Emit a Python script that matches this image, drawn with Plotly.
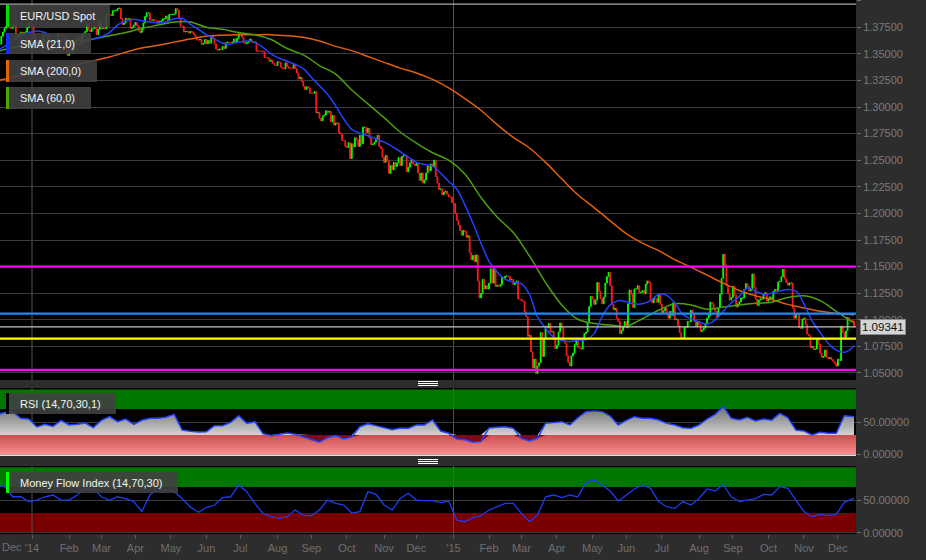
import numpy as np
import pandas as pd
import plotly.graph_objects as go
from plotly.subplots import make_subplots

# ---------------- DATA ----------------
# Daily EUR/USD closes (one row per trading week), Mon 2 Dec 2013 .. Tue 15 Dec 2015
closes = [
    1.3590, 1.3590, 1.3590, 1.3665, 1.3705,
    1.3740, 1.3760, 1.3780, 1.3745, 1.3740,
    1.3765, 1.3770, 1.3680, 1.3665, 1.3675,
    1.3705, 1.3675, 1.3700, 1.3705, 1.3745,
    1.3795, 1.3780, 1.3765, 1.3670, 1.3590,
    1.3630, 1.3615, 1.3575, 1.3590, 1.3670,
    1.3675, 1.3670, 1.3605, 1.3620, 1.3540,
    1.3555, 1.3560, 1.3550, 1.3690, 1.3675,
    1.3675, 1.3665, 1.3655, 1.3560, 1.3485,
    1.3525, 1.3515, 1.3535, 1.3590, 1.3635,
    1.3645, 1.3635, 1.3590, 1.3675, 1.3695,
    1.3710, 1.3780, 1.3725, 1.3710, 1.3740,
    1.3740, 1.3745, 1.3680, 1.3730, 1.3805,
    1.3735, 1.3740, 1.3735, 1.3860, 1.3875,
    1.3870, 1.3860, 1.3905, 1.3905, 1.3910,
    1.3925, 1.3930, 1.3830, 1.3775, 1.3790,
    1.3835, 1.3825, 1.3830, 1.3740, 1.3750,
    1.3770, 1.3795, 1.3765, 1.3715, 1.3700,
    1.3730, 1.3790, 1.3850, 1.3885, 1.3885,
    1.3815, 1.3815, 1.3820, 1.3810, 1.3810,
    1.3790, 1.3805, 1.3810, 1.3830, 1.3830,
    1.3855, 1.3810, 1.3870, 1.3870, 1.3870,
    1.3875, 1.3925, 1.3910, 1.3835, 1.3760,
    1.3760, 1.3705, 1.3710, 1.3710, 1.3695,
    1.3710, 1.3705, 1.3685, 1.3665, 1.3630,
    1.3630, 1.3635, 1.3590, 1.3595, 1.3635,
    1.3595, 1.3625, 1.3600, 1.3665, 1.3645,
    1.3590, 1.3545, 1.3535, 1.3545, 1.3540,
    1.3570, 1.3550, 1.3605, 1.3610, 1.3605,
    1.3605, 1.3610, 1.3640, 1.3610, 1.3645,
    1.3690, 1.3680, 1.3655, 1.3605, 1.3595,
    1.3605, 1.3615, 1.3640, 1.3610, 1.3605,
    1.3610, 1.3525, 1.3525, 1.3525, 1.3525,
    1.3520, 1.3465, 1.3465, 1.3460, 1.3430,
    1.3440, 1.3410, 1.3395, 1.3390, 1.3425,
    1.3420, 1.3375, 1.3365, 1.3360, 1.3415,
    1.3380, 1.3365, 1.3365, 1.3365, 1.3400,
    1.3360, 1.3320, 1.3265, 1.3280, 1.3240,
    1.3195, 1.3165, 1.3190, 1.3180, 1.3130,
    1.3130, 1.3130, 1.3145, 1.2945, 1.2950,
    1.2895, 1.2870, 1.2915, 1.2925, 1.2965,
    1.2950, 1.2960, 1.2860, 1.2920, 1.2830,
    1.2850, 1.2850, 1.2760, 1.2745, 1.2685,
    1.2685, 1.2630, 1.2620, 1.2665, 1.2515,
    1.2655, 1.2625, 1.2710, 1.2690, 1.2630,
    1.2735, 1.2655, 1.2810, 1.2810, 1.2760,
    1.2800, 1.2710, 1.2645, 1.2650, 1.2670,
    1.2700, 1.2735, 1.2630, 1.2610, 1.2525,
    1.2480, 1.2545, 1.2495, 1.2375, 1.2450,
    1.2410, 1.2480, 1.2440, 1.2475, 1.2525,
    1.2450, 1.2535, 1.2545, 1.2545, 1.2390,
    1.2435, 1.2475, 1.2505, 1.2465, 1.2450,
    1.2470, 1.2380, 1.2310, 1.2380, 1.2285,
    1.2315, 1.2380, 1.2445, 1.2400, 1.2465,
    1.2440, 1.2500, 1.2345, 1.2285, 1.2225,
    1.2230, 1.2175, 1.2200, 1.2210, 1.2180,
    1.2155, 1.2155, 1.2100, 1.2095, 1.2000,
    1.1935, 1.1890, 1.1840, 1.1795, 1.1840,
    1.1830, 1.1775, 1.1790, 1.1630, 1.1565,
    1.1605, 1.1545, 1.1610, 1.1365, 1.1205,
    1.1245, 1.1380, 1.1290, 1.1320, 1.1290,
    1.1345, 1.1480, 1.1345, 1.1480, 1.1315,
    1.1325, 1.1315, 1.1330, 1.1400, 1.1390,
    1.1410, 1.1410, 1.1405, 1.1375, 1.1380,
    1.1330, 1.1345, 1.1365, 1.1195, 1.1195,
    1.1180, 1.1175, 1.1075, 1.1030, 1.0845,
    1.0855, 1.0700, 1.0550, 1.0630, 1.0495,
    1.0565, 1.0595, 1.0880, 1.0655, 1.0825,
    1.0940, 1.0925, 1.0965, 1.0885, 1.0890,
    1.0835, 1.0730, 1.0760, 1.0885, 1.0970,
    1.0925, 1.0800, 1.0780, 1.0660, 1.0600,
    1.0565, 1.0660, 1.0685, 1.0765, 1.0805,
    1.0740, 1.0735, 1.0725, 1.0825, 1.0870,
    1.0885, 1.0975, 1.1125, 1.1220, 1.1195,
    1.1145, 1.1185, 1.1350, 1.1265, 1.1200,
    1.1150, 1.1215, 1.1345, 1.1405, 1.1445,
    1.1320, 1.1145, 1.1095, 1.1110, 1.1015,
    1.0985, 1.0870, 1.0900, 1.0935, 1.0985,
    1.0925, 1.1150, 1.1280, 1.1240, 1.1115,
    1.1290, 1.1290, 1.1320, 1.1255, 1.1260,
    1.1275, 1.1245, 1.1335, 1.1365, 1.1350,
    1.1185, 1.1160, 1.1205, 1.1200, 1.1165,
    1.1235, 1.1145, 1.1060, 1.1085, 1.1110,
    1.1055, 1.1015, 1.1080, 1.1040, 1.1160,
    1.1000, 1.1005, 1.0945, 1.0880, 1.0830,
    1.0825, 1.0935, 1.0930, 1.0985, 1.0980,
    1.1090, 1.1060, 1.0985, 1.0935, 1.0985,
    1.0955, 1.0890, 1.0905, 1.0925, 1.0965,
    1.1015, 1.1040, 1.1165, 1.1150, 1.1105,
    1.1080, 1.1025, 1.1115, 1.1240, 1.1390,
    1.1615, 1.1515, 1.1320, 1.1245, 1.1185,
    1.1210, 1.1315, 1.1230, 1.1120, 1.1150,
    1.1170, 1.1205, 1.1205, 1.1285, 1.1340,
    1.1315, 1.1270, 1.1290, 1.1430, 1.1305,
    1.1195, 1.1135, 1.1185, 1.1195, 1.1195,
    1.1245, 1.1255, 1.1175, 1.1195, 1.1215,
    1.1195, 1.1265, 1.1285, 1.1275, 1.1355,
    1.1360, 1.1405, 1.1475, 1.1385, 1.1350,
    1.1325, 1.1345, 1.1345, 1.1110, 1.1015,
    1.1055, 1.1050, 1.0925, 1.0920, 1.1005,
    1.1015, 1.0955, 1.0865, 1.0850, 1.0740,
    1.0750, 1.0720, 1.0725, 1.0815, 1.0770,
    1.0685, 1.0645, 1.0655, 1.0715, 1.0645,
    1.0635, 1.0645, 1.0625, 1.0610, 1.0590,
    1.0565, 1.0630, 1.0615, 1.0940, 1.0880,
    1.0835, 1.0895, 1.1020, 1.0995, 1.0990,
    1.0990, 1.09341,
]

# SMA(21) read every 5th trading day (+ last day)
sma21 = [
    1.353, 1.357, 1.362, 1.367, 1.370, 1.3715, 1.370, 1.366, 1.363, 1.360,
    1.359, 1.361, 1.364, 1.366, 1.370, 1.377, 1.381, 1.3825, 1.381, 1.380,
    1.379, 1.380, 1.383, 1.3835, 1.378, 1.373, 1.368, 1.364, 1.360, 1.359,
    1.361, 1.362, 1.361, 1.356, 1.350, 1.346, 1.343, 1.340, 1.336, 1.328,
    1.320, 1.312, 1.301, 1.289, 1.279, 1.2755, 1.273, 1.270, 1.267, 1.263,
    1.258, 1.253, 1.248, 1.246, 1.2445, 1.238, 1.230, 1.223, 1.208, 1.191,
    1.172, 1.155, 1.145, 1.138, 1.1355, 1.134, 1.124, 1.1027, 1.092, 1.0835,
    1.0805, 1.0795, 1.081, 1.0812, 1.087, 1.103, 1.114, 1.118, 1.117, 1.115,
    1.115, 1.118, 1.124, 1.123, 1.116, 1.105, 1.101, 1.098, 1.096, 1.100,
    1.108, 1.116, 1.122, 1.130, 1.127, 1.124, 1.125, 1.127, 1.1285, 1.127,
    1.115, 1.099, 1.088, 1.078, 1.0715, 1.0695, 1.074, 1.076,
]
# SMA(60) and SMA(200) read every 10th trading day (+ last day)
sma60 = [
    1.352, 1.356, 1.359, 1.361, 1.362, 1.362, 1.364, 1.367, 1.370, 1.374,
    1.377, 1.380, 1.380, 1.375, 1.373, 1.370, 1.368, 1.3635, 1.355, 1.349,
    1.339, 1.331, 1.316, 1.303, 1.290, 1.2765, 1.266, 1.257, 1.250, 1.237,
    1.215, 1.1966, 1.182, 1.160, 1.135, 1.114, 1.1005, 1.0965, 1.095, 1.094,
    1.101, 1.109, 1.115, 1.114, 1.110, 1.112, 1.114, 1.1155, 1.1165, 1.121,
    1.1225, 1.118, 1.108, 1.098, 1.0975,
]
sma200 = [
    1.3245, 1.328, 1.331, 1.3335, 1.3365, 1.340, 1.3435, 1.347, 1.3515, 1.3555,
    1.358, 1.361, 1.364, 1.3665, 1.3675, 1.368, 1.368, 1.368, 1.367, 1.3655,
    1.362, 1.357, 1.353, 1.3475, 1.342, 1.3366, 1.332, 1.326, 1.318, 1.308,
    1.297, 1.2835, 1.2715, 1.2615, 1.248, 1.2325, 1.2175, 1.2055, 1.193, 1.181,
    1.172, 1.165, 1.1565, 1.1495, 1.142, 1.1345, 1.1275, 1.1225, 1.119, 1.1145,
    1.111, 1.108, 1.106, 1.1047, 1.1045,
]
# RSI(14,70,30,1) and Money Flow Index(14,70,30), every 5th trading day (+ last day)
rsi = [
    60.8, 64.8, 65.9, 55.6, 54.6, 42.3, 46.4, 43.3, 52.6, 45.4,
    46.4, 48.5, 41.3, 52.6, 58.2, 50.5, 54.6, 46.4, 52.6, 55.6,
    55.6, 57.2, 61.8, 37.7, 35.6, 34.6, 35.1, 44.4, 44.4, 49.5,
    59.7, 47.9, 50.5, 32.0, 29.0, 31.0, 33.0, 31.0, 27.0, 22.0,
    19.0, 26.0, 29.0, 24.0, 27.0, 42.8, 47.4, 44.4, 41.3, 38.2,
    40.8, 40.3, 45.4, 45.4, 53.1, 36.1, 32.6, 23.9, 22.8, 18.8,
    19.8, 40.8, 41.8, 42.8, 40.3, 24.9, 20.8, 24.9, 47.9, 49.5,
    50.5, 45.4, 56.6, 65.9, 66.9, 65.9, 59.2, 45.4, 52.6, 58.2,
    55.6, 55.6, 53.1, 47.9, 45.4, 41.3, 40.3, 45.4, 54.6, 61.8,
    73.6, 55.6, 53.1, 57.2, 51.5, 54.6, 52.6, 63.3, 56.6, 37.7,
    36.1, 30.0, 34.1, 32.6, 32.6, 59.7, 58.2, 58.0,
]
mfi = [
    73.0, 70.5, 55.0, 55.0, 47.7, 50.0, 55.0, 57.7, 50.0, 50.0,
    57.7, 67.9, 67.9, 55.0, 50.0, 55.0, 52.3, 47.7, 32.3, 57.7,
    66.9, 65.3, 62.8, 52.3, 39.5, 31.3, 38.5, 42.4, 53.6, 55.0,
    73.0, 62.8, 44.9, 29.6, 24.5, 21.9, 24.5, 34.7, 27.0, 26.0,
    34.7, 50.0, 44.9, 42.4, 30.1, 32.3, 62.8, 58.7, 42.4, 34.7,
    52.3, 60.3, 50.0, 49.0, 49.0, 46.0, 48.5, 19.4, 16.8, 23.0,
    26.0, 34.7, 39.7, 44.9, 44.9, 29.6, 16.8, 27.0, 55.0, 57.7,
    53.6, 57.7, 55.0, 77.0, 80.6, 73.0, 63.8, 48.5, 57.7, 66.9,
    73.0, 67.9, 47.7, 39.7, 37.2, 47.7, 42.4, 52.3, 66.9, 63.8,
    74.0, 55.0, 47.7, 50.0, 52.3, 58.7, 57.7, 70.5, 67.9, 50.0,
    32.3, 24.5, 28.0, 26.0, 28.0, 46.4, 52.3, 53.0,
]

# horizontal study levels on the price panel
resistance_top = 1.3968
level_magenta = [1.1500, 1.0530]
level_blue = 1.1057
level_yellow = 1.0823

month_labels = ["'14", "Feb", "Mar", "Apr", "May", "Jun", "Jul", "Aug", "Sep", "Oct", "Nov", "Dec",
                "'15", "Feb", "Mar", "Apr", "May", "Jun", "Jul", "Aug", "Sep", "Oct", "Nov", "Dec"]

# ---------------- DERIVED ----------------
dates = pd.bdate_range("2013-12-02", periods=len(closes))
opens = [closes[0]] + closes[:-1]
highs = [max(o, c) for o, c in zip(opens, closes)]
lows = [min(o, c) for o, c in zip(opens, closes)]
d5 = list(dates[::5]) + [dates[-1]]
d10 = list(dates[::10]) + [dates[-1]]
# first trading day of every month (weekend month starts fall in the rangebreaks)
month_ticks = pd.date_range("2014-01-01", periods=len(month_labels), freq="BMS")
year_lines = [month_ticks[0], month_ticks[12]]

# ---------------- LAYOUT HELPERS ----------------
W, H = 926, 560
MR, MB = 70, 26
PW, PH = W - MR, H - MB


def px(x):
    return x / PW


def py(y):
    return 1 - y / PH


FONT = "Liberation Sans, Arial, sans-serif"
BG = "#2d2d2d"
TICKC = "#777777"
GRID = "#3c3c3c"

fig = make_subplots(rows=3, cols=1, shared_xaxes=True, vertical_spacing=0)

# ---- price panel ----
fig.add_trace(go.Candlestick(
    x=dates, open=opens, high=highs, low=lows, close=closes,
    increasing=dict(line=dict(color="#00ff00", width=1), fillcolor="#00ff00"),
    decreasing=dict(line=dict(color="#ff1a1a", width=1), fillcolor="#ff1a1a"),
    whiskerwidth=0, showlegend=False, hoverinfo="skip"), row=1, col=1)
fig.add_trace(go.Scatter(x=d10, y=sma200, mode="lines", showlegend=False,
                         line=dict(color="#e0600f", width=1.5, shape="spline")), row=1, col=1)
fig.add_trace(go.Scatter(x=d10, y=sma60, mode="lines", showlegend=False,
                         line=dict(color="#4f9e0c", width=1.5, shape="spline")), row=1, col=1)
fig.add_trace(go.Scatter(x=d5, y=sma21, mode="lines", showlegend=False,
                         line=dict(color="#2243ff", width=1.5, shape="spline")), row=1, col=1)

# ---- RSI panel ----
band_x = ["2013-11-29", "2015-12-18"]
fig.add_trace(go.Scatter(x=band_x, y=[30, 30], mode="lines", line=dict(width=0), fill="tozeroy",
                         fillgradient=dict(type="vertical", start=0, stop=30,
                                           colorscale=[[0, "#f88e8e"], [1, "#c94f4f"]]),
                         showlegend=False, hoverinfo="skip"), row=2, col=1)
rsi_hi = np.maximum(rsi, 30)
rsi_lo = np.minimum(rsi, 30)
fig.add_trace(go.Scatter(x=d5, y=[30] * len(d5), mode="lines", line=dict(width=0),
                         showlegend=False, hoverinfo="skip"), row=2, col=1)
fig.add_trace(go.Scatter(x=d5, y=rsi_hi, mode="lines", line=dict(width=0), fill="tonexty",
                         fillgradient=dict(type="vertical", start=30, stop=75,
                                           colorscale=[[0, "#d2d2d2"], [1, "#6c6c6c"]]),
                         showlegend=False, hoverinfo="skip"), row=2, col=1)
fig.add_trace(go.Scatter(x=d5, y=[30] * len(d5), mode="lines", line=dict(width=0),
                         showlegend=False, hoverinfo="skip"), row=2, col=1)
fig.add_trace(go.Scatter(x=d5, y=rsi_lo, mode="lines", line=dict(width=0), fill="tonexty",
                         fillcolor="#7a0a1c", showlegend=False, hoverinfo="skip"), row=2, col=1)
fig.add_trace(go.Scatter(x=d5, y=rsi, mode="lines", line=dict(color="#2244ff", width=1.5),
                         showlegend=False, hoverinfo="skip"), row=2, col=1)

# ---- MFI panel ----
fig.add_trace(go.Scatter(x=d5, y=mfi, mode="lines", line=dict(color="#1e3cf5", width=1.3),
                         showlegend=False, hoverinfo="skip"), row=3, col=1)

# ---------------- SHAPES ----------------
shapes = []
# indicator bands
shapes.append(dict(type="rect", xref="x2 domain", x0=0, x1=1, yref="y2", y0=70, y1=100,
                   fillcolor="#007800", line=dict(width=0), layer="below"))
shapes.append(dict(type="rect", xref="x3 domain", x0=0, x1=1, yref="y3", y0=70, y1=100,
                   fillcolor="#007800", line=dict(width=0), layer="below"))
shapes.append(dict(type="rect", xref="x3 domain", x0=0, x1=1, yref="y3", y0=0, y1=30,
                   fillcolor="#780000", line=dict(width=0), layer="below"))
# year separators
for yl in year_lines:
    for xr, yref in [("x", "y domain"), ("x2", "y2 domain"), ("x3", "y3 domain")]:
        shapes.append(dict(type="line", xref=xr, x0=yl, x1=yl, yref=yref, y0=0, y1=1,
                           line=dict(color="#555555", width=1), layer="below"))
# RSI bottom line
shapes.append(dict(type="line", xref="x2 domain", x0=0, x1=1, yref="y2 domain", y0=0.01, y1=0.01,
                   line=dict(color="#dddddd", width=1.5), layer="above"))


def hline(y, color, width):
    shapes.append(dict(type="line", xref="x domain", x0=0, x1=1, yref="y", y0=y, y1=y,
                       line=dict(color=color, width=width), layer="above"))


hline(resistance_top, "#a8a8a8", 1.2)
for lv in level_magenta:
    hline(lv, "#ff00ff", 2.2)
hline(level_blue, "#1a8cff", 2.2)
hline(level_yellow, "#ffff00", 2.2)
hline(closes[-1], "#c4c4c4", 1.2)

# legend boxes: (x0, y0, x1, y1, bar colour, text)
legend_boxes = [
    (6, 5, 110, 27, "#00e000", "EUR/USD Spot"),
    (6, 33, 91, 54, "#1030ff", "SMA (21,0)"),
    (6, 60, 97, 82, "#e0620a", "SMA (200,0)"),
    (6, 87, 91, 109, "#4ca800", "SMA (60,0)"),
    (6, 393, 116, 414, "#000000", "RSI (14,70,30,1)"),
    (6, 472, 178, 493, "#00ff00", "Money Flow Index (14,70,30)"),
]
annotations = []
for x0, y0, x1, y1, col, txt in legend_boxes:
    shapes.append(dict(type="rect", xref="paper", yref="paper", x0=px(x0), x1=px(x1),
                       y0=py(y1), y1=py(y0), fillcolor="rgba(64,64,64,0.9)",
                       line=dict(width=0), layer="above"))
    shapes.append(dict(type="rect", xref="paper", yref="paper", x0=px(x0), x1=px(x0 + 3),
                       y0=py(y1), y1=py(y0), fillcolor=col, line=dict(width=0), layer="above"))
    annotations.append(dict(xref="paper", yref="paper", x=px(18), y=py((y0 + y1) / 2),
                            xanchor="left", yanchor="middle", text=txt, showarrow=False,
                            font=dict(family=FONT, size=11, color="#f2f2f2")))

# panel resize handles
for ys in [(381.5, 383.5, 385.5), (459.5, 461.5, 463.5)]:
    for yy in ys:
        shapes.append(dict(type="line", xref="paper", yref="paper", x0=px(418), x1=px(438),
                           y0=py(yy), y1=py(yy), line=dict(color="#ffffff", width=1), layer="above"))

# clipped December 2013 label and last-price tag
annotations.append(dict(xref="paper", yref="paper", x=px(12), y=py(547), text="Dec",
                        showarrow=False, xanchor="center", yanchor="middle",
                        font=dict(family=FONT, size=11, color="#6f6f6f")))
annotations.append(dict(xref="paper", yref="y", x=1, xshift=4, y=closes[-1], xanchor="left",
                        yanchor="middle", text=f"{closes[-1]:.5f}", showarrow=False,
                        bgcolor="#d4d4d4", bordercolor="#8c8c8c", borderwidth=1, borderpad=1,
                        font=dict(family=FONT, size=11.5, color="#111111")))

fig.update_layout(
    width=W, height=H, margin=dict(l=0, r=MR, t=0, b=MB, autoexpand=False),
    paper_bgcolor=BG, plot_bgcolor="#000000", showlegend=False, hovermode=False,
    font=dict(family=FONT, size=11, color=TICKC),
    shapes=shapes, annotations=annotations,
    yaxis=dict(domain=[py(380), 1]),
    yaxis2=dict(domain=[py(456), py(388)]),
    yaxis3=dict(domain=[0, py(466)]),
)

fig.update_xaxes(rangebreaks=[dict(bounds=["sat", "mon"])],
                 range=["2013-12-04 04:30", "2015-12-16 05:00"],
                 showgrid=False, zeroline=False, showline=False,
                 rangeslider_visible=False)
fig.update_xaxes(row=3, col=1, tickvals=month_ticks, ticktext=month_labels,
                 ticks="outside", ticklen=4, tickcolor="#5a5a5a",
                 tickfont=dict(family=FONT, size=11, color="#6f6f6f"))

common_y = dict(side="right", zeroline=False, showline=False, gridcolor=GRID, gridwidth=1,
                ticks="outside", ticklen=4, tickcolor="#6a6a6a", tickformat=".5f",
                tickfont=dict(family=FONT, size=11, color="#7a7a7a"))
fig.update_yaxes(row=1, col=1, range=[1.0434, 1.4006], tick0=1.05, dtick=0.025, **common_y)
fig.update_yaxes(row=2, col=1, range=[-2.3, 102.3], tickvals=[0, 50], **common_y)
fig.update_yaxes(row=3, col=1, range=[-2.0, 102.1], tickvals=[0, 50], **common_y)

fig.write_html("out.html", config={"displayModeBar": False},
               post_script="document.body.style.margin='0px';"
                           "document.body.style.background='%s';" % BG)
